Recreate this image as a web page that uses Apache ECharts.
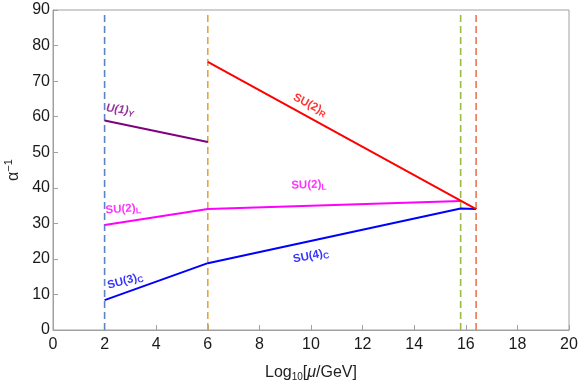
<!DOCTYPE html>
<html><head><meta charset="utf-8">
<script src="https://cdn.jsdelivr.net/npm/echarts@6/dist/echarts.min.js"></script>
<style>html,body{margin:0;padding:0;background:#fff}#c{width:581px;height:385px}</style>
</head><body><div id="c"></div>
<script>
// Data
const xTicks = [0,2,4,6,8,10,12,14,16,18,20];
const yTicks = [0,10,20,30,40,50,60,70,80,90];
const u1Y = [[2,58.9],[6,52.9]];
const su2L = [[2,29.5],[6,34.0],[15.8,36.3]];
const su3C = [[2,8.4],[6,18.8]];
const su4C = [[6,18.8],[15.8,34.2],[16.4,34.0]];
const su2R = [[6,75.4],[16.4,34.0]];
const thresholds = [2, 6, 15.8, 16.4];
const thresholdColors = ['#5b84c4','#e5a33d','#9cba42','#ea7753'];
const labels = [
  {x:2.6, y:61.9, text:'{m|U(1)}{s|Y}', color:'#800080', rot:-7, italic:true},
  {x:2.72, y:34.0, text:'{m|SU(2)}{s|L}', color:'#ff00ff', rot:4},
  {x:9.92, y:40.8, text:'{m|SU(2)}{s|L}', color:'#ff00ff', rot:2},
  {x:9.96, y:63.3, text:'{m|SU(2)}{s|R}', color:'#ff0000', rot:-27},
  {x:2.8, y:13.8, text:'{m|SU(3)}{s|C}', color:'#0000ff', rot:15},
  {x:10.0, y:20.8, text:'{m|SU(4)}{s|C}', color:'#0000ff', rot:11}
];

const chart = echarts.init(document.getElementById('c'));
const series = [];
thresholds.forEach((t,i)=>{
  series.push({type:'line', data:[[t,0],[t,89]], symbol:'none', silent:true,
    lineStyle:{color:thresholdColors[i], width:1.6, type:[7,4]}, z:1});
});
const lineDefs = [[u1Y,'#800080'],[su2L,'#ff00ff'],[su3C,'#0000ff'],[su4C,'#0000ff'],[su2R,'#ff0000']];
lineDefs.forEach(([d,c])=>{
  series.push({type:'line', data:d, symbol:'none', lineStyle:{color:c, width:2}, z:3});
});
labels.forEach(l=>{
  series.push({type:'scatter', data:[[l.x,l.y]], symbolSize:0, z:5,
    label:{show:true, position:'inside', formatter:l.text, rotate:l.rot,
      rich:{
        m:{fontSize:11.5, fontWeight:'bold', color:l.color, fontFamily:'Liberation Sans', fontStyle:l.italic?'italic':'normal'},
        s:{fontSize:8.5, fontWeight:'bold', color:l.color, fontFamily:'Liberation Sans', fontStyle:l.italic?'italic':'normal', padding:[6,0,0,0]}
      }}});
});

chart.setOption({
  animation:false,
  backgroundColor:'#fff',
  grid:{left:53, right:12, top:10, bottom:55, show:true, borderColor:'#a0a0a0', borderWidth:1, containLabel:false, outerBoundsMode:'none'},
  xAxis:{type:'value', min:0, max:20, interval:2,
    name:'Log{sub|10}[{it|μ}/GeV]', nameLocation:'middle', nameGap:34,
    nameTextStyle:{fontSize:16, color:'#222', fontFamily:'Liberation Sans',
      rich:{sub:{fontSize:10, color:'#222', fontFamily:'Liberation Sans', padding:[8,0,0,0]},
            it:{fontSize:16, fontStyle:'italic', color:'#222', fontFamily:'Liberation Sans'}}},
    axisLine:{show:true, lineStyle:{color:'#a0a0a0'}},
    axisTick:{show:true, inside:true, length:5, lineStyle:{color:'#a0a0a0'}},
    axisLabel:{fontSize:16, color:'#1a1a1a', fontFamily:'Liberation Sans', margin:7},
    splitLine:{show:false}},
  yAxis:{type:'value', min:0, max:90, interval:10,
    name:'α{sup|−1}', nameLocation:'middle', nameGap:30, nameRotate:90,
    nameTextStyle:{fontSize:16, color:'#222', fontFamily:'Liberation Sans',
      rich:{sup:{fontSize:11, color:'#222', fontFamily:'Liberation Sans', padding:[0,0,8,0]}}},
    axisLine:{show:true, lineStyle:{color:'#a0a0a0'}},
    axisTick:{show:true, inside:true, length:5, lineStyle:{color:'#a0a0a0'}},
    axisLabel:{fontSize:16, color:'#1a1a1a', fontFamily:'Liberation Sans', margin:3},
    splitLine:{show:false}},
  series:series
});
</script></body></html>
